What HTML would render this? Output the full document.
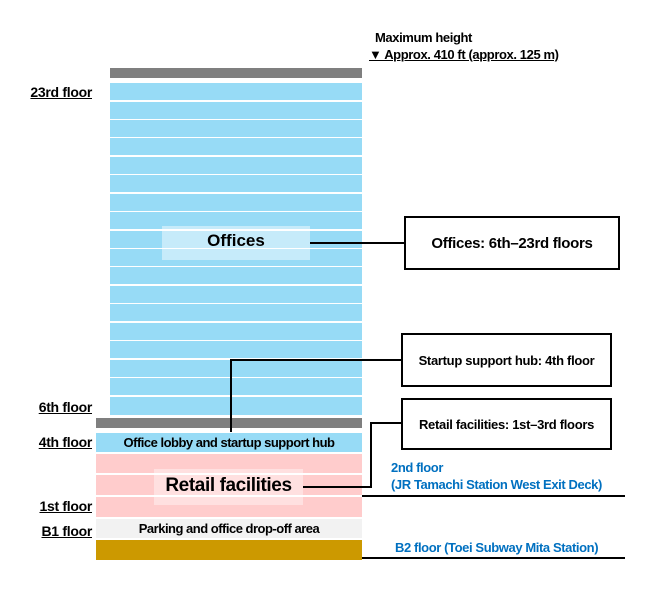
<!DOCTYPE html>
<html><head><style>
body{margin:0;width:652px;height:590px;background:#fff;position:relative;font-family:"Liberation Sans",Arial,sans-serif;overflow:hidden}
div{position:absolute;box-sizing:border-box;white-space:nowrap}
.s{background:#97dbf6;left:110px;width:252px;height:17px}
.fl{left:14px;font-weight:bold;font-size:14px;text-decoration:underline;letter-spacing:-0.3px;width:78px;text-align:right}
.box{border:2px solid #000;background:#fff;font-weight:bold;display:flex;align-items:center;justify-content:center;letter-spacing:-0.3px}
.ln{background:#000}
.blue{color:#0070c0;font-weight:bold;font-size:13px;letter-spacing:-0.4px}
</style></head><body>
<div style="left:375px;top:30px;font-weight:bold;font-size:13px;letter-spacing:-0.4px">Maximum height</div>
<div style="left:369px;top:47px;font-weight:bold;font-size:13px;letter-spacing:-0.4px;text-decoration:underline">▼ Approx. 410 ft (approx. 125 m)</div>
<div style="left:110px;top:68px;width:252px;height:10px;background:#7f7f7f"></div>
<div class="s" style="top:83px"></div><div class="s" style="top:101.5px"></div><div class="s" style="top:120px"></div><div class="s" style="top:138.3px"></div><div class="s" style="top:156.8px"></div><div class="s" style="top:175.2px"></div><div class="s" style="top:193.6px"></div><div class="s" style="top:212px"></div><div class="s" style="top:230.5px"></div><div class="s" style="top:249px"></div><div class="s" style="top:267.4px"></div><div class="s" style="top:285.8px"></div><div class="s" style="top:304.3px"></div><div class="s" style="top:322.7px"></div><div class="s" style="top:341.2px"></div><div class="s" style="top:359.6px"></div><div class="s" style="top:378px"></div><div class="s" style="top:396.5px;height:18.5px"></div>
<div style="left:162px;top:226px;width:148px;height:34px;background:rgba(255,255,255,0.45)"></div>
<div style="left:162px;top:231px;width:148px;text-align:center;font-weight:bold;font-size:17px">Offices</div>
<div style="left:96px;top:418px;width:266px;height:10px;background:#7f7f7f"></div>
<div style="left:96px;top:433px;width:266px;height:19px;background:#97dbf6;font-size:13px;font-weight:bold;text-align:center;line-height:19px;letter-spacing:-0.5px">Office lobby and startup support hub</div>
<div style="left:96px;top:454px;width:266px;height:19px;background:#ffcccc"></div>
<div style="left:96px;top:475px;width:266px;height:20px;background:#ffcccc"></div>
<div style="left:96px;top:497px;width:266px;height:20px;background:#ffcccc"></div>
<div style="left:154px;top:469px;width:149px;height:36px;background:rgba(255,255,255,0.4)"></div>
<div style="left:154px;top:475px;width:149px;text-align:center;font-weight:bold;font-size:19px;letter-spacing:-0.4px">Retail facilities</div>
<div style="left:96px;top:519px;width:266px;height:19px;background:#f2f2f2;font-size:13px;font-weight:bold;text-align:center;line-height:19px;letter-spacing:-0.5px">Parking and office drop-off area</div>
<div style="left:96px;top:540px;width:266px;height:20px;background:#cc9900"></div>
<div class="fl" style="top:84px">23rd floor</div>
<div class="fl" style="top:399px">6th floor</div>
<div class="fl" style="top:434px">4th floor</div>
<div class="fl" style="top:498px">1st floor</div>
<div class="fl" style="top:523px">B1 floor</div>
<div class="box" style="left:404px;top:216px;width:216px;height:54px;font-size:15px">Offices: 6th–23rd floors</div>
<div class="box" style="left:401px;top:333px;width:211px;height:54px;font-size:13px">Startup support hub: 4th floor</div>
<div class="box" style="left:401px;top:398px;width:211px;height:52px;font-size:13px">Retail facilities: 1st–3rd floors</div>
<div class="ln" style="left:310px;top:242px;width:94px;height:2px"></div>
<div class="ln" style="left:230px;top:359px;width:2px;height:73px"></div>
<div class="ln" style="left:230px;top:359px;width:171px;height:2px"></div>
<div class="ln" style="left:303px;top:486px;width:69px;height:2px"></div>
<div class="ln" style="left:370px;top:422px;width:2px;height:66px"></div>
<div class="ln" style="left:370px;top:422px;width:31px;height:2px"></div>
<div class="blue" style="left:391px;top:460px">2nd floor</div>
<div class="blue" style="left:391px;top:477px">(JR Tamachi Station West Exit Deck)</div>
<div class="ln" style="left:362px;top:495px;width:263px;height:2px"></div>
<div class="blue" style="left:395px;top:540px">B2 floor (Toei Subway Mita Station)</div>
<div class="ln" style="left:362px;top:557px;width:263px;height:2px"></div>
</body></html>
